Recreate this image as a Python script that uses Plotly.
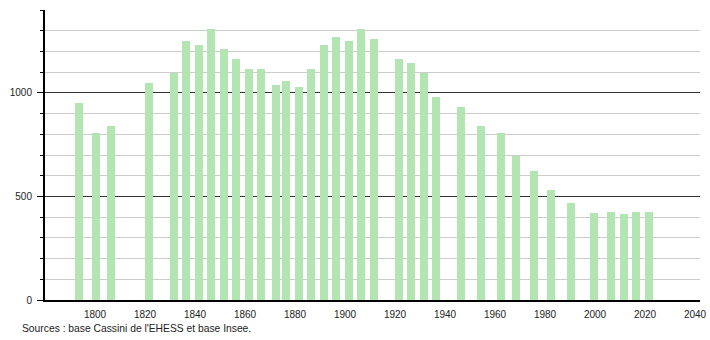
import plotly.graph_objects as go

years = [1793, 1800, 1806, 1821, 1831, 1836, 1841, 1846, 1851, 1856, 1861, 1866,
         1872, 1876, 1881, 1886, 1891, 1896, 1901, 1906, 1911, 1921, 1926, 1931,
         1936, 1946, 1954, 1962, 1968, 1975, 1982, 1990, 1999, 2006, 2011, 2016, 2021]
population = [951, 806, 842, 1048, 1097, 1248, 1229, 1310, 1214, 1165, 1113, 1113,
              1039, 1055, 1029, 1113, 1229, 1268, 1248, 1310, 1258, 1165, 1145, 1097,
              981, 932, 838, 806, 697, 621, 532, 468, 419, 423, 416, 426, 427]
x_ticks = [1800, 1820, 1840, 1860, 1880, 1900, 1920, 1940, 1960, 1980, 2000, 2020, 2040]
y_major = [0, 500, 1000]
source = "Sources : base Cassini de l'EHESS et base Insee."

font = "Liberation Sans, Arial, sans-serif"

ML, MR, MT, MB = 45, 10, 10, 40
W, H = 710, 340

fig = go.Figure()
fig.add_trace(go.Bar(x=years, y=population, width=3.2, offset=-1.1,
                     marker=dict(color="#b3e5b3", line=dict(width=0)),
                     hoverinfo="x+y"))
# invisible trace to activate yaxis2
fig.add_trace(go.Scatter(x=[years[0]], y=[0], yaxis="y2", mode="markers",
                         marker=dict(opacity=0), hoverinfo="skip", showlegend=False))

fig.update_layout(
    width=W, height=H,
    margin=dict(l=ML, r=MR, t=MT, b=MB, autoexpand=False),
    paper_bgcolor="white", plot_bgcolor="white",
    showlegend=False,
    font=dict(family=font, size=10, color="#222"),
    bargap=0,
    xaxis=dict(range=[1780, 2042], tickvals=x_ticks, showgrid=False, zeroline=False,
               showline=True, linecolor="black", linewidth=1.5, ticks="",
               tickfont=dict(size=10, color="#222"), ticklabelstandoff=4,
               automargin=False),
    yaxis=dict(range=[0, 1400], dtick=100, showgrid=True, gridcolor="#cccccc",
               gridwidth=1, zeroline=False, showline=True, linecolor="black",
               linewidth=1.5, ticks="outside", ticklen=3, tickcolor="black",
               showticklabels=False, automargin=False),
    yaxis2=dict(range=[0, 1400], overlaying="y", side="left", tickvals=y_major,
                showgrid=True, gridcolor="#333333", gridwidth=1, zeroline=False,
                showline=False, ticks="outside", ticklen=7, tickcolor="black",
                tickfont=dict(size=10, color="#222"), ticklabelstandoff=3,
                automargin=False),
    annotations=[dict(text=source,
                      x=(20 - ML) / (W - ML - MR),
                      y=-(328 - (H - MB)) / (H - MT - MB),
                      xref="paper", yref="paper",
                      showarrow=False, xanchor="left", yanchor="middle",
                      font=dict(size=10.3, color="#222"))],
)

fig.write_html("out.html")
